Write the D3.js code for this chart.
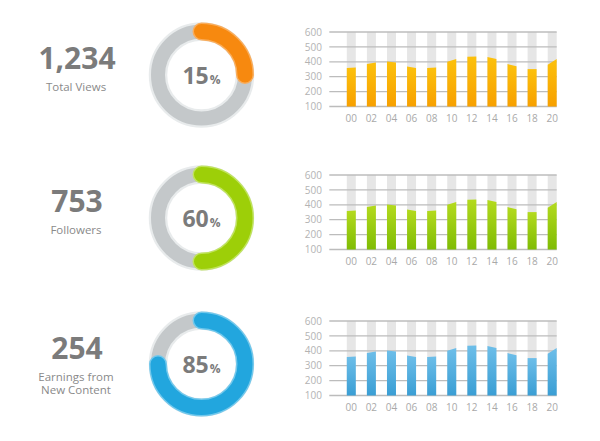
<!DOCTYPE html>
<html>
<head>
<meta charset="utf-8">
<script src="https://cdn.jsdelivr.net/npm/d3@7"></script>
<style>
  html, body { margin: 0; padding: 0; background: #fff; }
  svg { display: block; }
  text { font-family: "Open Sans", "Noto Sans", sans-serif; }
</style>
</head>
<body>
<svg id="chart" width="600" height="441"></svg>
<script>
// ---- data ----
const hours = ["00","02","04","06","08","10","12","14","16","18","20"];
const barStart = [358, 385, 402, 369, 358, 400, 434, 433, 385, 351, 380];
const barEnd   = [362, 396, 396, 358, 362, 418, 436, 418, 370, 351, 418];
const yTicks = [100, 200, 300, 400, 500, 600];
const statValues = ["1,234", "753", "254"];
const statLabels = [["Total Views"], ["Followers"], ["Earnings from", "New Content"]];
const pctLabels = [15, 60, 85];
const arcShares = [0.25, 0.5, 0.75];

// ---- styles ----
const themes = [
  { top: "#fcc10c", bottom: "#f7a000", arc: "#f7890f", arcEdge: "#f9ad5c" },
  { top: "#b4da1e", bottom: "#7fbc04", arc: "#9dcf08", arcEdge: "#c0e35e" },
  { top: "#6dbee9", bottom: "#3a9ed4", arc: "#22a6de", arcEdge: "#72c8ec" }
];
const rowCenters = [75, 218, 364];

const svg = d3.select("#chart");
const defs = svg.append("defs");

themes.forEach((t, i) => {
  const g = defs.append("linearGradient").attr("id", "grad" + i)
    .attr("x1", 0).attr("y1", 0).attr("x2", 0).attr("y2", 1);
  g.append("stop").attr("offset", "0%").attr("stop-color", t.top);
  g.append("stop").attr("offset", "100%").attr("stop-color", t.bottom);
});

const x = d3.scalePoint().domain(hours).range([351.3, 552.2]);
const barW = 9;

rowCenters.forEach((cy, i) => {
  const t = themes[i];
  const row = svg.append("g");

  // ---- stat text ----
  const nLines = statLabels[i].length;
  const numBase = nLines > 1 ? cy - 5 : cy - 6;
  row.append("text")
    .attr("x", 77).attr("y", numBase)
    .attr("text-anchor", "middle")
    .attr("font-size", 30).attr("font-weight", 700)
    .attr("fill", "#7b7b7b")
    .text(statValues[i]);
  statLabels[i].forEach((s, k) => {
    row.append("text")
      .attr("x", 76).attr("y", numBase + 21.5 + k * 13.5)
      .attr("text-anchor", "middle")
      .attr("font-size", 11.5)
      .attr("fill", "#8a8a8a")
      .text(s);
  });

  // ---- donut ----
  const cx = 201.5;
  const r = 43.5;
  const dg = row.append("g").attr("transform", `translate(${cx},${cy})`);
  dg.append("circle").attr("r", r).attr("fill", "none")
    .attr("stroke", "#e8ebec").attr("stroke-width", 18.5);
  dg.append("circle").attr("r", r).attr("fill", "none")
    .attr("stroke", "#c4c8ca").attr("stroke-width", 14);

  const ang = d3.scaleLinear().domain([0, 1]).range([0, 2 * Math.PI]);
  const a1 = ang(arcShares[i]);
  const p = d3.path();
  p.arc(0, 0, r, -Math.PI / 2, -Math.PI / 2 + a1, false);
  dg.append("path").attr("d", p.toString()).attr("fill", "none")
    .attr("stroke", t.arcEdge).attr("stroke-width", 18).attr("stroke-linecap", "round");
  dg.append("path").attr("d", p.toString()).attr("fill", "none")
    .attr("stroke", t.arc).attr("stroke-width", 15).attr("stroke-linecap", "round");

  const pt = dg.append("text").attr("y", 8.5).attr("text-anchor", "middle")
    .attr("fill", "#7b7b7b").attr("font-weight", 700);
  pt.append("tspan").attr("font-size", 23).text(pctLabels[i]);
  pt.append("tspan").attr("font-size", 12).attr("dx", 1).text("%");

  // ---- bar chart ----
  const top = cy - 43;
  const y = d3.scaleLinear().domain([100, 600]).range([top + 74.5, top]);
  const bg = row.append("g");

  bg.selectAll("rect.bgcol").data(hours).enter().append("rect")
    .attr("x", d => x(d) - barW / 2).attr("width", barW)
    .attr("y", y(600)).attr("height", y(100) - y(600))
    .attr("fill", "#e6e6e6");

  bg.selectAll("line.grid").data(yTicks).enter().append("line")
    .attr("x1", 329.3).attr("x2", 556.7)
    .attr("y1", d => y(d)).attr("y2", d => y(d))
    .attr("stroke", "#bcbcbc").attr("stroke-width", 1.3);

  bg.selectAll("text.ytick").data(yTicks).enter().append("text")
    .attr("x", 322).attr("y", d => y(d)).attr("dy", "0.36em")
    .attr("text-anchor", "end").attr("font-size", 10).attr("fill", "#b3b3b3")
    .text(d => d);

  bg.selectAll("path.bar").data(hours).enter().append("path")
    .attr("d", (d, k) => {
      const l = x(d) - barW / 2, rr = x(d) + barW / 2;
      return `M${l},${y(100)}L${l},${y(barStart[k])}L${rr},${y(barEnd[k])}L${rr},${y(100)}Z`;
    })
    .attr("fill", `url(#grad${i})`);

  bg.selectAll("text.xtick").data(hours).enter().append("text")
    .attr("x", d => x(d)).attr("y", y(100) + 15)
    .attr("text-anchor", "middle").attr("font-size", 10).attr("fill", "#a9a9a9")
    .text(d => d);
});
</script>
</body>
</html>
